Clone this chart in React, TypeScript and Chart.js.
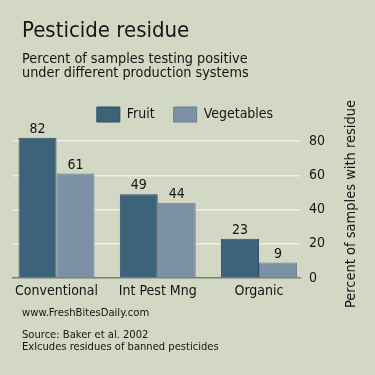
import React, { useEffect, useRef } from "react";
import { Chart, registerables } from "chart.js";

Chart.register(...registerables);

const categories = ["Conventional", "Int Pest Mng", "Organic"];
const fruitValues = [82, 49, 23];
const vegetableValues = [61, 44, 9];
const seriesNames = ["Fruit", "Vegetables"];
const yTicks = [0, 20, 40, 60, 80];

const titleText = "Pesticide residue";
const subtitleLines = ["Percent of samples testing positive", "under different production systems"];
const footerUrl = "www.FreshBitesDaily.com";
const footerNotes = ["Source: Baker et al. 2002", "Exlcudes residues of banned pesticides"];
const yTitle = "Percent of samples with residue";

const FONT = "'DejaVu Sans Condensed', 'DejaVu Sans', sans-serif";
const BG = "#d3d8c4";
const TEXT = "#141414";

export default function App() {
  const ref = useRef<HTMLCanvasElement | null>(null);

  useEffect(() => {
    const canvas = ref.current;
    if (!canvas) return;

    const bgPlugin = {
      id: "bg",
      beforeDraw(chart: any) {
        const c = chart.ctx;
        c.save();
        c.fillStyle = BG;
        c.fillRect(0, 0, chart.width, chart.height);
        c.restore();
      },
    };

    const legendShift = {
      id: "legendShift",
      afterLayout(chart: any) {
        const lg = chart.legend;
        if (lg) {
          lg.left -= 9;
          lg.right -= 9;
          lg.top += 8;
          lg.bottom += 8;
        }
      },
    };

    const textPlugin = {
      id: "texts",
      afterDatasetsDraw(chart: any) {
        const c = chart.ctx;
        c.save();
        c.fillStyle = TEXT;
        c.textAlign = "center";
        c.textBaseline = "alphabetic";
        c.font = `14px ${FONT}`;
        chart.data.datasets.forEach((ds: any, di: number) => {
          const meta = chart.getDatasetMeta(di);
          meta.data.forEach((bar: any, i: number) => {
            const v = ds.data[i].y;
            c.fillText(String(v), bar.x, bar.y - 5);
          });
        });
        c.restore();
      },
      afterDraw(chart: any) {
        const c = chart.ctx;
        c.save();
        c.fillStyle = TEXT;
        c.textAlign = "left";
        c.textBaseline = "alphabetic";
        c.font = `22px ${FONT}`;
        c.fillText(titleText, 22, 37);
        c.font = `14.3px ${FONT}`;
        subtitleLines.forEach((l, i) => c.fillText(l, 22, 63 + i * 14));
        c.font = `11.2px ${FONT}`;
        c.fillText(footerUrl, 22, 316);
        c.font = `11.1px ${FONT}`;
        footerNotes.forEach((l, i) => c.fillText(l, 22, 338 + i * 12));
        // y axis title, rotated
        c.translate(351, 204);
        c.rotate(-Math.PI / 2);
        c.textAlign = "center";
        c.textBaseline = "middle";
        c.font = `14.5px ${FONT}`;
        c.fillText(yTitle, 0, 0);
        c.restore();
      },
    };

    const chart = new Chart(canvas, {
      type: "bar",
      data: {
        datasets: [
          {
            label: seriesNames[0],
            data: fruitValues.map((v, i) => ({ x: i, y: v })),
            backgroundColor: "#3d637a",
            borderColor: "#2e4f63",
            borderWidth: 1,
            categoryPercentage: 0.75,
            barPercentage: 1,
          },
          {
            label: seriesNames[1],
            data: vegetableValues.map((v, i) => ({ x: i, y: v })),
            backgroundColor: "#7c91a6",
            borderColor: "#687e94",
            borderWidth: 1,
            categoryPercentage: 0.75,
            barPercentage: 1,
          },
        ],
      },
      options: {
        responsive: false,
        animation: false,
        devicePixelRatio: 1,
        layout: { padding: { left: 13, right: 0, top: 80, bottom: 67 } },
        plugins: {
          legend: {
            display: true,
            position: "top",
            labels: {
              boxWidth: 23,
              boxHeight: 15,
              padding: 19,
              color: TEXT,
              font: { family: FONT, size: 14 },
            },
          },
          tooltip: { enabled: false },
          title: { display: false },
        },
        scales: {
          x: {
            type: "linear",
            min: -0.43,
            max: 2.405,
            offset: false,
            grid: { display: false, drawTicks: false },
            border: { display: true, color: "#7b7e74", width: 1.5 },
            afterFit(scale: any) {
              scale.height = 30;
            },
            ticks: {
              stepSize: 1,
              includeBounds: false,
              autoSkip: false,
              maxRotation: 0,
              padding: 5,
              color: TEXT,
              font: { family: FONT, size: 14 },
              callback: (v: any) => categories[v] ?? "",
            },
          },
          y: {
            position: "right",
            min: 0,
            max: 90,
            afterFit(scale: any) {
              scale.width = 75;
            },
            afterBuildTicks(scale: any) {
              scale.ticks = yTicks.map((v) => ({ value: v }));
            },
            grid: {
              drawTicks: false,
              color: (ctx: any) => (ctx.tick && ctx.tick.value === 0 ? "rgba(0,0,0,0)" : "#eef0e6"),
              lineWidth: 1.5,
            },
            border: { display: false },
            ticks: {
              stepSize: 20,
              includeBounds: false,
              padding: 9,
              color: TEXT,
              font: { family: FONT, size: 14 },
            },
          },
        },
      },
      plugins: [bgPlugin, legendShift, textPlugin],
    } as any);

    return () => chart.destroy();
  }, []);

  return (
    <div style={{ position: "fixed", left: 0, top: 0, width: 375, height: 375, background: BG }}>
      <canvas ref={ref} width={375} height={375} style={{ display: "block", width: 375, height: 375 }} />
    </div>
  );
}
